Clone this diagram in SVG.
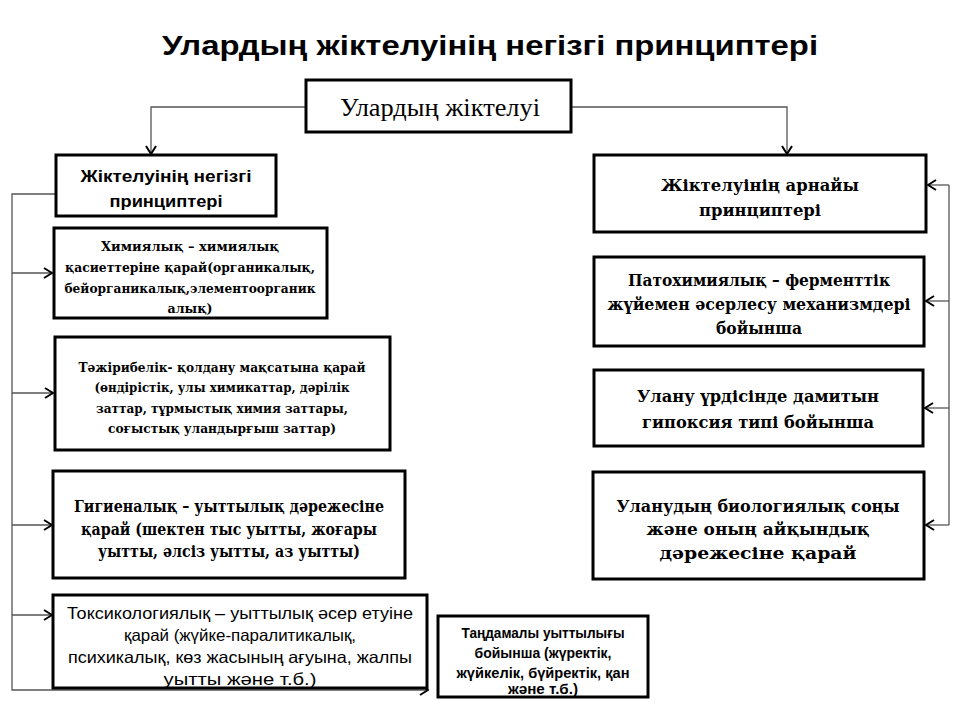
<svg xmlns="http://www.w3.org/2000/svg" width="960" height="720" viewBox="0 0 960 720">
<style>
.box{fill:#fff;stroke:#000;stroke-width:3}
.con{fill:none;stroke:#555;stroke-width:1.3}
</style>
<defs>
<marker id="arr" markerWidth="10" markerHeight="12" refX="9" refY="6" orient="auto" markerUnits="userSpaceOnUse">
<path d="M1,1 L9,6 L1,11" fill="none" stroke="#000" stroke-width="2"/>
</marker>
</defs>
<rect width="960" height="720" fill="#fff"/>
<text x="490" y="55" font-family="Liberation Sans, Arial, sans-serif" font-size="28" font-weight="bold" text-anchor="middle" textLength="656" lengthAdjust="spacingAndGlyphs">Улардың жіктелуінің негізгі принциптері</text>

<g id="connectors">
<path class="con" d="M306,107 H151 V154" marker-end="url(#arr)"/>
<path class="con" d="M571,107 H787 V154" marker-end="url(#arr)"/>
<path class="con" d="M56,194 H12 V690 H428" marker-end="url(#arr)"/>
<path class="con" d="M12,273 H52" marker-end="url(#arr)"/>
<path class="con" d="M12,393 H53" marker-end="url(#arr)"/>
<path class="con" d="M12,525 H52" marker-end="url(#arr)"/>
<path class="con" d="M12,615 H52" marker-end="url(#arr)"/>
<path class="con" d="M949,185 V525"/>
<path class="con" d="M949,185 H928" marker-end="url(#arr)"/>
<path class="con" d="M949,301 H926" marker-end="url(#arr)"/>
<path class="con" d="M949,408 H925" marker-end="url(#arr)"/>
<path class="con" d="M949,525 H926" marker-end="url(#arr)"/>
</g>

<g id="root">
<rect class="box" x="306" y="80" width="265" height="52"/>
<text x="440" y="116" font-family="Liberation Serif, Times New Roman, serif" font-size="25" text-anchor="middle" textLength="200" lengthAdjust="spacingAndGlyphs">Улардың жіктелуі</text>
</g>

<g id="basic">
<rect class="box" x="56" y="155" width="220" height="61"/>
<text x="166" y="182" font-family="Liberation Sans, Arial, sans-serif" font-size="16" font-weight="bold" text-anchor="middle" textLength="171" lengthAdjust="spacingAndGlyphs">Жіктелуінің негізгі</text>
<text x="166" y="207" font-family="Liberation Sans, Arial, sans-serif" font-size="16" font-weight="bold" text-anchor="middle" textLength="113" lengthAdjust="spacingAndGlyphs">принциптері</text>
</g>

<g id="chem">
<rect class="box" x="54" y="228" width="273" height="90"/>
<text x="190" y="251" font-family="DejaVu Serif, serif" font-size="13" font-weight="bold" text-anchor="middle" textLength="178" lengthAdjust="spacingAndGlyphs">Химиялық – химиялық</text>
<text x="190" y="272" font-family="DejaVu Serif, serif" font-size="13" font-weight="bold" text-anchor="middle" textLength="250" lengthAdjust="spacingAndGlyphs">қасиеттеріне қарай(органикалық,</text>
<text x="190" y="293" font-family="DejaVu Serif, serif" font-size="13" font-weight="bold" text-anchor="middle" textLength="251" lengthAdjust="spacingAndGlyphs">бейорганикалық,элементоорганик</text>
<text x="190" y="313" font-family="DejaVu Serif, serif" font-size="13" font-weight="bold" text-anchor="middle" textLength="45" lengthAdjust="spacingAndGlyphs">алық)</text>
</g>

<g id="practical">
<rect class="box" x="55" y="337" width="335" height="113"/>
<text x="222" y="372" font-family="DejaVu Serif, serif" font-size="13" font-weight="bold" text-anchor="middle" textLength="287" lengthAdjust="spacingAndGlyphs">Тәжірибелік- қолдану мақсатына қарай</text>
<text x="222" y="392" font-family="DejaVu Serif, serif" font-size="13" font-weight="bold" text-anchor="middle" textLength="255" lengthAdjust="spacingAndGlyphs">(өндірістік, улы химикаттар, дәрілік</text>
<text x="222" y="413" font-family="DejaVu Serif, serif" font-size="13" font-weight="bold" text-anchor="middle" textLength="252" lengthAdjust="spacingAndGlyphs">заттар, тұрмыстық химия заттары,</text>
<text x="222" y="433" font-family="DejaVu Serif, serif" font-size="13" font-weight="bold" text-anchor="middle" textLength="228" lengthAdjust="spacingAndGlyphs">соғыстық уландырғыш заттар)</text>
</g>

<g id="hygienic">
<rect class="box" x="53" y="471" width="352" height="107"/>
<text x="229" y="512" font-family="DejaVu Serif, serif" font-size="16" font-weight="bold" text-anchor="middle" textLength="310" lengthAdjust="spacingAndGlyphs">Гигиеналық – уыттылық дәрежесіне</text>
<text x="229" y="535" font-family="DejaVu Serif, serif" font-size="16" font-weight="bold" text-anchor="middle" textLength="296" lengthAdjust="spacingAndGlyphs">қарай (шектен тыс уытты, жоғары</text>
<text x="229" y="557" font-family="DejaVu Serif, serif" font-size="16" font-weight="bold" text-anchor="middle" textLength="262" lengthAdjust="spacingAndGlyphs">уытты, әлсіз уытты, аз уытты)</text>
</g>

<g id="toxic">
<rect class="box" x="53" y="595" width="374" height="93"/>
<text x="240" y="619" font-family="Liberation Sans, Arial, sans-serif" font-size="16.5" text-anchor="middle" textLength="346" lengthAdjust="spacingAndGlyphs">Токсикологиялық – уыттылық әсер етуіне</text>
<text x="240" y="641" font-family="Liberation Sans, Arial, sans-serif" font-size="16.5" text-anchor="middle" textLength="232" lengthAdjust="spacingAndGlyphs">қарай (жүйке-паралитикалық,</text>
<text x="240" y="663" font-family="Liberation Sans, Arial, sans-serif" font-size="16.5" text-anchor="middle" textLength="344" lengthAdjust="spacingAndGlyphs">психикалық, көз жасының ағуына, жалпы</text>
<text x="240" y="685" font-family="Liberation Sans, Arial, sans-serif" font-size="16.5" text-anchor="middle" textLength="153" lengthAdjust="spacingAndGlyphs">уытты және т.б.)</text>
</g>

<g id="selective">
<rect class="box" x="438" y="616" width="210" height="81"/>
<text x="543" y="638" font-family="Liberation Sans, Arial, sans-serif" font-size="14" font-weight="bold" text-anchor="middle" textLength="163" lengthAdjust="spacingAndGlyphs">Таңдамалы уыттылығы</text>
<text x="543" y="658" font-family="Liberation Sans, Arial, sans-serif" font-size="14" font-weight="bold" text-anchor="middle" textLength="137" lengthAdjust="spacingAndGlyphs">бойынша (жүректік,</text>
<text x="543" y="678" font-family="Liberation Sans, Arial, sans-serif" font-size="14" font-weight="bold" text-anchor="middle" textLength="173" lengthAdjust="spacingAndGlyphs">жүйкелік, бүйректік, қан</text>
<text x="543" y="694" font-family="Liberation Sans, Arial, sans-serif" font-size="14" font-weight="bold" text-anchor="middle" textLength="70" lengthAdjust="spacingAndGlyphs">және т.б.)</text>
</g>

<g id="special">
<rect class="box" x="594" y="155" width="332" height="77"/>
<text x="760" y="191" font-family="DejaVu Serif, serif" font-size="16" font-weight="bold" text-anchor="middle" textLength="198" lengthAdjust="spacingAndGlyphs">Жіктелуінің арнайы</text>
<text x="760" y="216" font-family="DejaVu Serif, serif" font-size="16" font-weight="bold" text-anchor="middle" textLength="122" lengthAdjust="spacingAndGlyphs">принциптері</text>
</g>

<g id="pathochem">
<rect class="box" x="594" y="257" width="330" height="89"/>
<text x="759" y="286" font-family="DejaVu Serif, serif" font-size="17" font-weight="bold" text-anchor="middle" textLength="262" lengthAdjust="spacingAndGlyphs">Патохимиялық – ферменттік</text>
<text x="759" y="310" font-family="DejaVu Serif, serif" font-size="17" font-weight="bold" text-anchor="middle" textLength="303" lengthAdjust="spacingAndGlyphs">жүйемен әсерлесу механизмдері</text>
<text x="759" y="334" font-family="DejaVu Serif, serif" font-size="17" font-weight="bold" text-anchor="middle" textLength="86" lengthAdjust="spacingAndGlyphs">бойынша</text>
</g>

<g id="hypoxia">
<rect class="box" x="594" y="370" width="329" height="76"/>
<text x="758" y="402" font-family="DejaVu Serif, serif" font-size="17" font-weight="bold" text-anchor="middle" textLength="242" lengthAdjust="spacingAndGlyphs">Улану үрдісінде дамитын</text>
<text x="758" y="428" font-family="DejaVu Serif, serif" font-size="17" font-weight="bold" text-anchor="middle" textLength="232" lengthAdjust="spacingAndGlyphs">гипоксия типі бойынша</text>
</g>

<g id="outcome">
<rect class="box" x="593" y="472" width="331" height="107"/>
<text x="758" y="512" font-family="DejaVu Serif, serif" font-size="17" font-weight="bold" text-anchor="middle" textLength="283" lengthAdjust="spacingAndGlyphs">Уланудың биологиялық соңы</text>
<text x="758" y="535" font-family="DejaVu Serif, serif" font-size="17" font-weight="bold" text-anchor="middle" textLength="223" lengthAdjust="spacingAndGlyphs">және оның айқындық</text>
<text x="758" y="559" font-family="DejaVu Serif, serif" font-size="17" font-weight="bold" text-anchor="middle" textLength="197" lengthAdjust="spacingAndGlyphs">дәрежесіне қарай</text>
</g>
</svg>
